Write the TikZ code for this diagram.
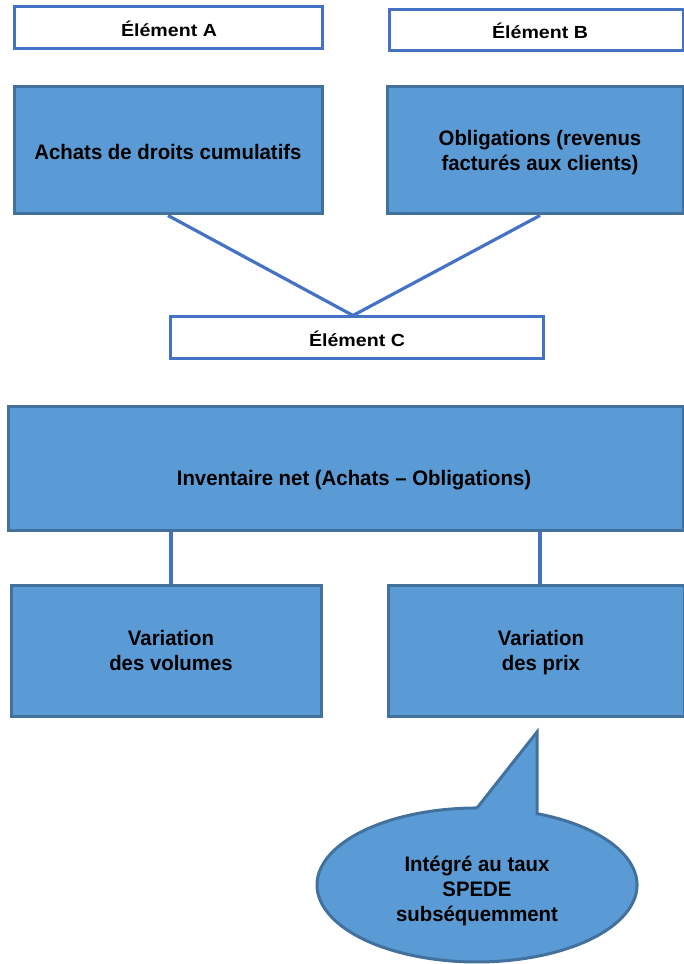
\documentclass[tikz,border=0pt]{standalone}
\usepackage{fontspec}
\setmainfont{Liberation Sans}
\newfontfamily\elemfont[FakeStretch=1.12]{Liberation Sans}
\newfontfamily\bodyfont[FakeStretch=0.97]{Liberation Sans}
\definecolor{boxfill}{HTML}{5B9BD5}
\definecolor{boxline}{HTML}{41719C}
\definecolor{linkblue}{HTML}{4472C4}
\begin{document}
\begin{tikzpicture}[x=1pt,y=1pt,
  whitebox/.style={draw=linkblue,line width=3pt,fill=white,rectangle,inner sep=0pt},
  bluebox/.style={draw=boxline,line width=3pt,fill=boxfill,rectangle,inner sep=0pt},
  elemtext/.style={inner sep=0pt,font=\elemfont\fontsize{17.5}{21}\selectfont\bfseries},
  bodytext/.style={inner sep=0pt,align=center,text depth=5pt,font=\bodyfont\fontsize{21}{25}\selectfont\bfseries},
  link/.style={draw=linkblue,line width=3.2pt},
  calloutshape/.style={draw=boxline,line width=3pt,fill=boxfill,line join=miter}]
\useasboundingbox (0,0) rectangle (684,964);
% top labels
\node[whitebox,minimum width=308,minimum height=42] (eA) at (168,936) {};
\node[elemtext] (eAt) at (169,935) {Élément A};
\node[whitebox,minimum width=294,minimum height=41] (eB) at (536,933.5) {};
\node[elemtext] (eBt) at (540,933) {Élément B};
% top blue boxes
\node[bluebox,minimum width=308,minimum height=127] (achats) at (168,813.5) {};
\node[bodytext] (achatst) at (168,810) {Achats de droits cumulatifs};
\node[bluebox,minimum width=296,minimum height=127] (oblig) at (535,813.5) {};
\node[bodytext] (obligt) at (540,811) {Obligations (revenus\\facturés aux clients)};
% element C
\node[whitebox,minimum width=373,minimum height=42] (eC) at (356.5,626) {};
\node[elemtext] (eCt) at (357,625) {Élément C};
\draw[link] (achats.south) -- ([xshift=-3.5pt]eC.north);
\draw[link] ([xshift=5pt]oblig.south) -- ([xshift=-3.5pt]eC.north);
% inventaire
\node[bluebox,minimum width=675,minimum height=124] (inv) at (346,495) {};
\node[bodytext] (invt) at (354,484) {Inventaire net (Achats – Obligations)};
% variations
\node[bluebox,minimum width=310,minimum height=131] (vol) at (166,312.5) {};
\node[bodytext] (volt) at (171,311) {Variation\\des volumes};
\node[bluebox,minimum width=296,minimum height=131] (prix) at (536,312.5) {};
\node[bodytext] (prixt) at (541,311) {Variation\\des prix};
\draw[link] ([xshift=5pt]vol.north) -- ([xshift=5pt]vol.north |- inv.south);
\draw[link] ([xshift=4pt]prix.north) -- ([xshift=4pt]prix.north |- inv.south);
% callout
\path[calloutshape] (477,156) -- (537,232) -- (537,150.4)
  arc[start angle=67.98, end angle=-270, x radius=160pt, y radius=77pt] -- cycle;
\node[bodytext] (note) at (477,73) {Intégré au taux\\SPEDE\\subséquemment};
\end{tikzpicture}
\end{document}
